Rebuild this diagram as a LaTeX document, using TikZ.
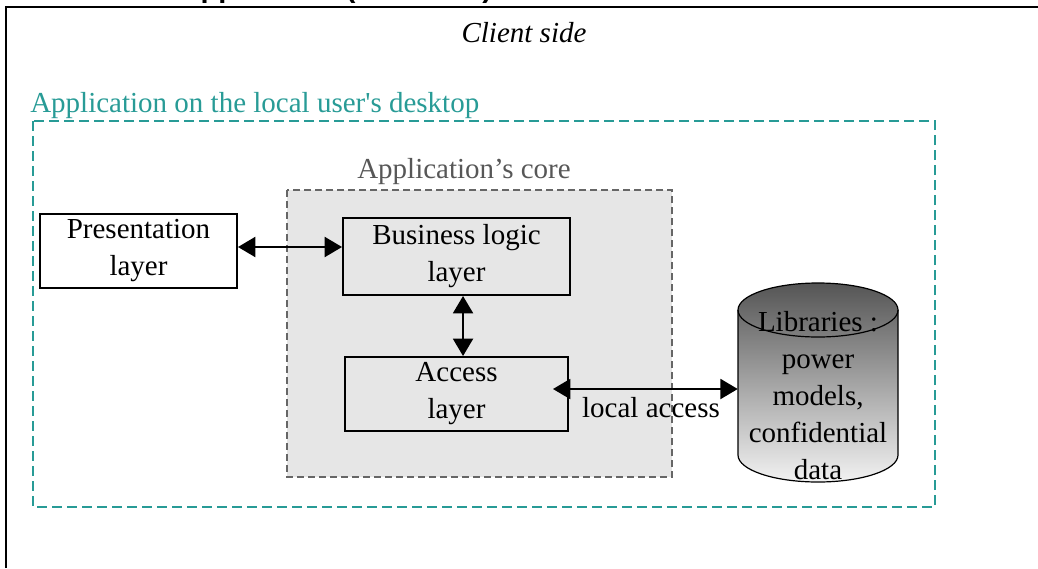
\documentclass[tikz,border=0pt]{standalone}
\usepackage{fontspec}
\newfontfamily\tms{Liberation Serif}
\newfontfamily\arialf{Liberation Sans}
\usetikzlibrary{arrows.meta}
\definecolor{tealc}{RGB}{40,155,150}
\definecolor{coregray}{RGB}{102,102,102}
\definecolor{corefill}{RGB}{230,230,230}
\definecolor{cyltop}{RGB}{85,85,85}
\definecolor{cylbot}{RGB}{242,242,242}
\tikzset{
  txt/.style={font=\tms\fontsize{21.75}{27.75}\selectfont, inner sep=0pt},
  layerbox/.style={draw, line width=1.5pt, align=center, inner sep=0pt,
    font=\tms\fontsize{21.75}{27.75}\selectfont},
  biarrow/.style={line width=1.5pt, {Triangle[length=13pt,width=15pt]}-{Triangle[length=13pt,width=15pt]}},
  tealframe/.style={draw=tealc, line width=1.6pt, dash pattern=on 7.5pt off 3.75pt},
  coreframe/.style={draw=coregray, fill=corefill, line width=1pt, dash pattern=on 5.25pt off 3pt},
}
\begin{document}
\begin{tikzpicture}[x=0.75pt,y=-0.75pt]
\clip (0,0) rectangle (1038,568);
\useasboundingbox (0,0) rectangle (1038,568);
% outer frame
\draw[line width=1.5pt] (6,568) -- (6,7) -- (1038,7);
\node[anchor=base west, inner sep=0pt, font=\arialf\bfseries\fontsize{21.75}{26}\selectfont] (head) at (20,-3) {Standalone application (Windows)};
\node[txt, font=\tms\itshape\fontsize{21.75}{27.75}\selectfont] (client) at (524,33) {Client side};
% teal frame
\draw[tealframe] (33,121) rectangle (935,507);
\node[txt, anchor=base west, text=tealc] (desk) at (30,112) {Application on the local user's desktop};
% core
\draw[coreframe] (287,190) rectangle (672,477);
\node[txt, anchor=base, text=coregray!85!black] (core) at (464,178) {Application’s core};
% layers
\node[layerbox, minimum width=147.75pt, minimum height=55.5pt] (pres) at (138.5,251) {Presentation\\layer};
\node[layerbox, minimum width=170.25pt, minimum height=57.75pt] (bus) at (456.5,256.5) {Business logic\\layer};
\node[layerbox, minimum width=167.25pt, minimum height=55.5pt] (acc) at (456.5,394) {Access\\layer};
% cylinder
\shade[top color=cyltop, bottom color=cylbot] (738,310) arc[start angle=180,end angle=0,x radius=60pt,y radius=20.25pt] -- (898,455) arc[start angle=0,end angle=-180,x radius=60pt,y radius=20.25pt] -- cycle;
\draw[line width=0.9pt] (738,310) -- (738,455) arc[start angle=180,end angle=360,x radius=60pt,y radius=20.25pt] -- (898,310);
\draw[line width=0.9pt] (818,310) ellipse[x radius=60pt,y radius=20.25pt];
\node[minimum width=120pt, minimum height=149.25pt, inner sep=0pt] (db) at (818,382.5) {};
\node[txt, align=center] (dbtext) at (818,396) {Libraries :\\power\\models,\\confidential\\data};
% connectors
\draw[biarrow] ([yshift=3pt]pres.east) -- ([yshift=3pt]pres.east -| bus.west);
\draw[biarrow] ([xshift=4.9pt]bus.south) -- ([xshift=4.9pt]bus.south |- acc.north);
\coordinate (la) at ([xshift=-12pt,yshift=3.75pt]acc.east);
\draw[biarrow] (la) -- (la -| db.west);
\node[txt] (lalabel) at (651,408) {local access};
\end{tikzpicture}
\end{document}
